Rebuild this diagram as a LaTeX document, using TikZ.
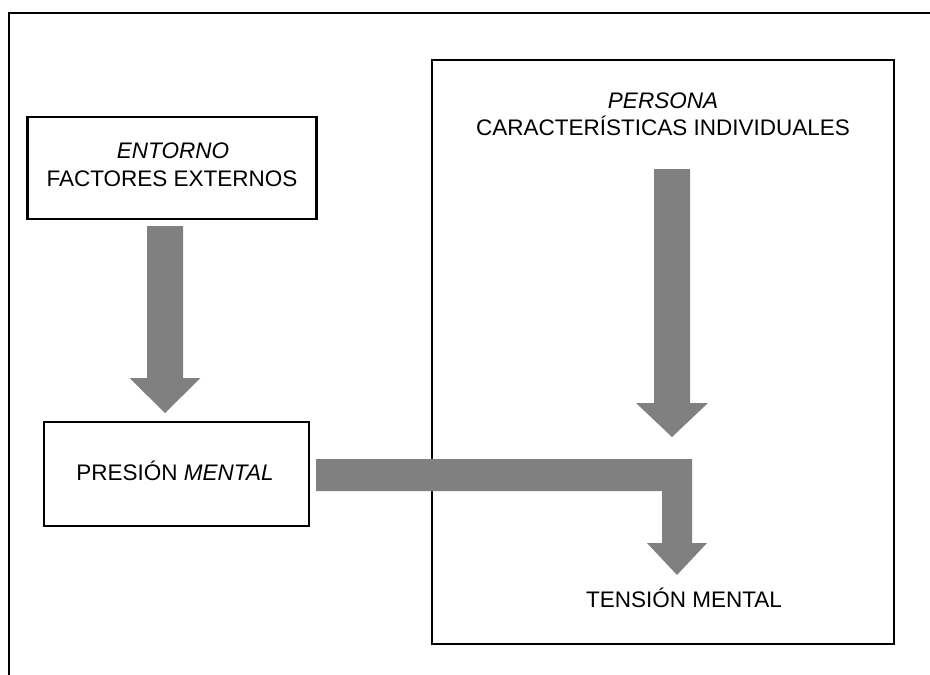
\documentclass[tikz,border=0pt]{standalone}
\usepackage{fontspec}
\setmainfont{Liberation Sans}
\usetikzlibrary{calc}
\definecolor{arrowgray}{HTML}{808080}
\newcommand\blockarrow[5]{%
  \fill[arrowgray] ($(#1)+(-#3,0)$) -- ($(#1)+(#3,0)$) -- ($(#2)+(#3,-#5)$) -- ($(#2)+(#4,-#5)$) -- (#2) -- ($(#2)+(-#4,-#5)$) -- ($(#2)+(-#3,-#5)$) -- cycle;}
\begin{document}
\begin{tikzpicture}[x=1pt,y=-1pt,
  boxstyle/.style={draw=black, line width=2.5pt, rectangle, inner sep=0pt},
  lbl/.style={anchor=base, inner sep=0pt, font=\fontsize{22.5}{27}\selectfont}]
\useasboundingbox (0,0) rectangle (930,675);
% frame (top and left edges)
\draw[line width=2pt] (9,675) -- (9,13) -- (930,13);
% boxes
\node[boxstyle, minimum width=462pt, minimum height=584pt] (per) at (663,352) {};
\node[boxstyle, minimum width=289pt, minimum height=102pt] (ent) at (172,168) {};
\node[boxstyle, minimum width=265pt, minimum height=104pt] (pm) at (176.5,474) {};
% texts
\node[lbl] (ent1) at (173,158) {\textit{ENTORNO}};
\node[lbl] (ent2) at (172,186) {FACTORES EXTERNOS};
\node[lbl] (pm1) at (175,480) {PRESIÓN \textit{MENTAL}};
\node[lbl] (per1) at (663,108) {\textit{PERSONA}};
\node[lbl] (per2) at (663,135) {CARACTERÍSTICAS INDIVIDUALES};
\node[lbl] (ten) at (684,607) {TENSIÓN MENTAL};
% arrow coordinates
\coordinate (a1s) at (165,226);
\coordinate (a1t) at (165,413);
\coordinate (a2s) at (672,169);
\coordinate (a2t) at (672,437);
\blockarrow{a1s}{a1t}{18}{35.5}{35}
\blockarrow{a2s}{a2t}{18}{36}{34}
% L-shaped arrow from pm to ten
\coordinate (a3s) at ($(pm.east)+(5,0)$);
\fill[arrowgray] (316,459) -- (692,459) -- (692,543) -- (707,543) -- (677,575) -- (647,543) -- (662,543) -- (662,491) -- (316,491) -- cycle;
\end{tikzpicture}
\end{document}
